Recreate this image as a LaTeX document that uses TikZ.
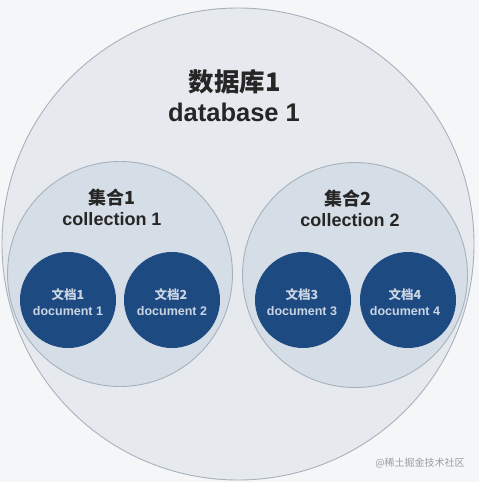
\documentclass[tikz,border=0pt]{standalone}
\usepackage{fontspec}
\setmainfont{Liberation Sans}
\newfontfamily\cjk{Noto Sans CJK SC}
\definecolor{bgc}{HTML}{F5F6F8}
\definecolor{dbfill}{HTML}{E6EAEF}
\definecolor{colfill}{HTML}{D5DDE6}
\definecolor{edgec}{HTML}{A7B1BD}
\definecolor{docfill}{HTML}{1E4A82}
\definecolor{doctext}{HTML}{C9D5E3}
\definecolor{titletext}{HTML}{262626}
\definecolor{wmtext}{HTML}{9A9DA3}
\begin{document}
\begin{tikzpicture}[x=1pt,y=-1pt,
  ring/.style={circle, draw=edgec, line width=0.9pt, inner sep=0pt},
  dbring/.style={ring, fill=dbfill, minimum size=472pt},
  colring/.style={ring, fill=colfill, minimum size=225pt},
  docring/.style={circle, fill=docfill, inner sep=0pt, minimum size=96pt},
  bigtxt/.style={font=\fontsize{25.5}{28}\selectfont\bfseries, text=titletext, inner sep=0pt},
  midtxt/.style={font=\fontsize{18}{20}\selectfont\bfseries, text=titletext, inner sep=0pt},
  doctxt/.style={font=\fontsize{12.5}{14}\selectfont\bfseries, text=doctext, inner sep=0pt},
  wmtxt/.style={font=\fontsize{10}{12}\selectfont, text=wmtext, inner sep=0pt}]
\useasboundingbox (0,0) rectangle (479,482);
\fill[bgc] (0,0) rectangle (479,482);
\node[dbring] (db) at (238,244) {};
\node[colring] (c1) at (120,274) {};
\node[colring] (c2) at (355,275) {};
\node[docring] (d1) at (68,300) {};
\node[docring] (d2) at (172,300) {};
\node[docring] (d3) at (303,300) {};
\node[docring] (d4) at (408,300) {};
\node[bigtxt] (dbcn) at (235,82) {\cjk\bfseries 数据库1};
\node[bigtxt] (dben) at (234,112) {database 1};
\node[midtxt] (c1cn) at (112,198) {\cjk\bfseries 集合1};
\node[midtxt] (c1en) at (112,219) {collection 1};
\node[midtxt] (c2cn) at (348,199) {\cjk\bfseries 集合2};
\node[midtxt] (c2en) at (350,220) {collection 2};
\node[doctxt] (d1cn) at (68,295) {\cjk\bfseries 文档1};
\node[doctxt] (d1en) at (68,311) {document 1};
\node[doctxt] (d2cn) at (171,295) {\cjk\bfseries 文档2};
\node[doctxt] (d2en) at (172,311) {document 2};
\node[doctxt] (d3cn) at (302,295) {\cjk\bfseries 文档3};
\node[doctxt] (d3en) at (302,311) {document 3};
\node[doctxt] (d4cn) at (405,295) {\cjk\bfseries 文档4};
\node[doctxt] (d4en) at (405,311) {document 4};
\node[wmtxt] (wm) at (420,463) {\cjk @稀土掘金技术社区};
\end{tikzpicture}
\end{document}
